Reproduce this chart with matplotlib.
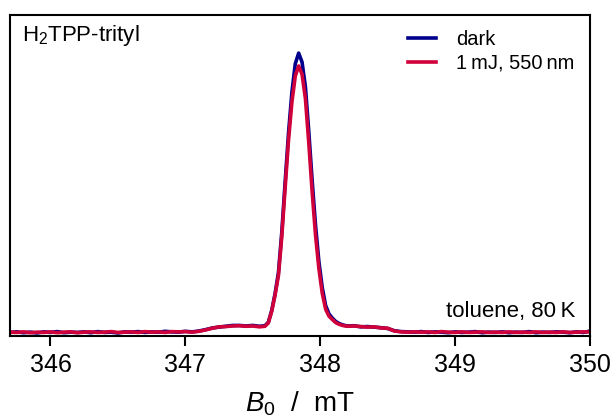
import matplotlib
matplotlib.use("Agg")
import matplotlib.pyplot as plt

plt.rcParams["font.family"] = ["Liberation Sans", "DejaVu Sans"]
plt.rcParams["mathtext.fontset"] = "custom"
plt.rcParams["mathtext.rm"] = "Liberation Sans"
plt.rcParams["mathtext.it"] = "Liberation Sans:italic"

# magnetic field (mT)
field = [
    345.70, 345.75, 345.80, 345.85, 345.90, 345.95, 346.00, 346.05, 346.10,
    346.15, 346.20, 346.25, 346.30, 346.35, 346.40, 346.45, 346.50, 346.55,
    346.60, 346.65, 346.70, 346.75, 346.80, 346.85, 346.90, 346.95, 347.00,
    347.05, 347.10, 347.15, 347.20, 347.25, 347.30, 347.35, 347.40, 347.45,
    347.50, 347.55,
    347.590, 347.615, 347.640, 347.665, 347.690, 347.715, 347.740, 347.765,
    347.790, 347.815, 347.840, 347.865, 347.890, 347.915, 347.940, 347.965,
    347.990, 348.015, 348.040, 348.065, 348.090, 348.115, 348.140, 348.165,
    348.20, 348.25, 348.30, 348.35, 348.40, 348.45, 348.50, 348.55, 348.60,
    348.65, 348.70, 348.75, 348.80, 348.85, 348.90, 348.95, 349.00, 349.05,
    349.10, 349.15, 349.20, 349.25, 349.30, 349.35, 349.40, 349.45, 349.50,
    349.55, 349.60, 349.65, 349.70, 349.75, 349.80, 349.85, 349.90, 349.95,
    350.00,
]

dark = [
    0.002, 0.004, 0.001, 0.003, 0.000, 0.004, 0.002, 0.005, 0.001,
    0.003, 0.002, 0.004, 0.001, 0.005, 0.002, 0.003, 0.000, 0.004,
    0.003, 0.005, 0.002, 0.004, 0.003, 0.006, 0.004, 0.003, 0.006,
    0.004, 0.007, 0.012, 0.018, 0.021, 0.024, 0.027, 0.027, 0.025,
    0.027, 0.024,
    0.026, 0.038, 0.080, 0.140, 0.215, 0.360, 0.540, 0.715,
    0.860, 0.962, 1.000, 0.968, 0.880, 0.720, 0.545, 0.385,
    0.255, 0.162, 0.098, 0.068, 0.053, 0.041, 0.034, 0.029,
    0.025, 0.026, 0.022, 0.023, 0.021, 0.019, 0.016, 0.008, 0.005,
    0.004, 0.003, 0.005, 0.002, 0.004, 0.003, 0.001, 0.004, 0.002,
    0.003, 0.005, 0.001, 0.003, 0.002, 0.004, 0.001, 0.003, 0.002,
    0.005, 0.001, 0.003, 0.002, 0.004, 0.003, 0.001, 0.004, 0.002,
    0.007,
]

light = [
    0.003, 0.002, 0.004, 0.001, 0.003, 0.002, 0.004, 0.001, 0.003,
    0.004, 0.001, 0.003, 0.004, 0.002, 0.003, 0.005, 0.002, 0.003,
    0.004, 0.002, 0.005, 0.003, 0.004, 0.002, 0.005, 0.004, 0.005,
    0.003, 0.006, 0.011, 0.017, 0.022, 0.023, 0.025, 0.026, 0.024,
    0.025, 0.022,
    0.024, 0.036, 0.077, 0.135, 0.205, 0.345, 0.520, 0.690,
    0.825, 0.918, 0.954, 0.925, 0.838, 0.680, 0.505, 0.350,
    0.230, 0.142, 0.085, 0.060, 0.048, 0.037, 0.031, 0.027,
    0.024, 0.025, 0.023, 0.021, 0.022, 0.018, 0.017, 0.007, 0.004,
    0.003, 0.004, 0.003, 0.004, 0.002, 0.005, 0.003, 0.002, 0.004,
    0.002, 0.003, 0.004, 0.002, 0.003, 0.002, 0.004, 0.002, 0.003,
    0.002, 0.004, 0.002, 0.003, 0.002, 0.004, 0.002, 0.003, 0.004,
    0.004,
]

x_ticks = [346, 347, 348, 349, 350]

fig = plt.figure(figsize=(6.13, 4.18), dpi=100)
ax = fig.add_axes([0.0163, 0.196, 0.9462, 0.768])

ax.plot(field, dark, color="#00008c", lw=2.6, label="dark")
ax.plot(field, light, color="#d0003a", lw=2.6, label="1\u2009mJ, 550\u2009nm")

ax.set_xlim(345.7, 350.0)
ax.set_ylim(-0.011, 1.136)
ax.set_xticks(x_ticks)
ax.set_yticks([])
ax.tick_params(axis="x", direction="out", length=7, width=1.5,
               labelsize=18, pad=5)
for s in ax.spines.values():
    s.set_linewidth(1.5)

ax.set_xlabel("$B_0$  /  mT", fontsize=20, labelpad=9)

ax.text(0.02, 0.975, "H$_2$TPP-trityl", transform=ax.transAxes,
        ha="left", va="top", fontsize=16)
ax.text(0.975, 0.045, "toluene, 80\u2009K", transform=ax.transAxes,
        ha="right", va="bottom", fontsize=16)

ax.legend(loc="upper right", bbox_to_anchor=(1.005, 1.01), frameon=False,
          fontsize=14.5, handlelength=1.4, handletextpad=1.0,
          labelspacing=0.25)

fig.savefig("out.png", dpi=100)
